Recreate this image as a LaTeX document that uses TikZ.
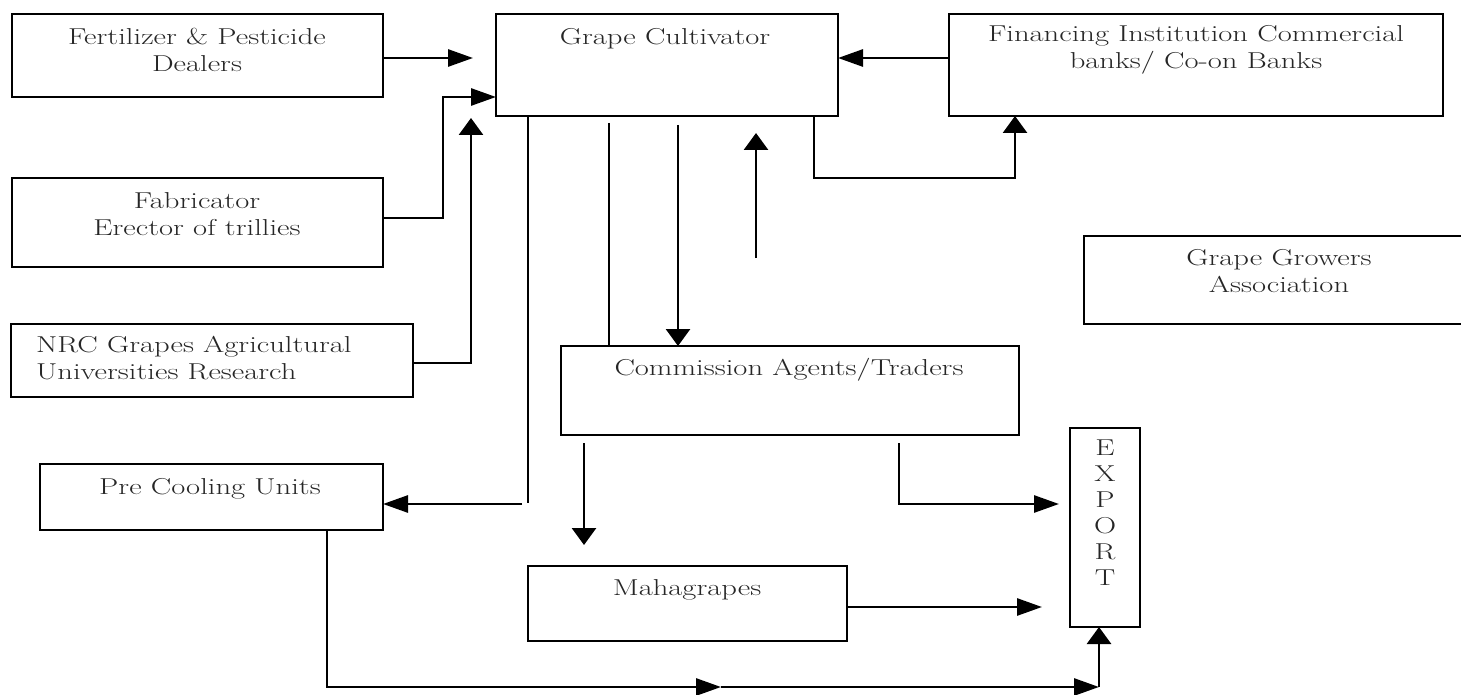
\documentclass[tikz,border=0pt]{standalone}
\usepackage{fontspec}
\usetikzlibrary{arrows.meta}
\newcommand\wtxt[1]{\scalebox{1.33}[1]{#1}}
\begin{document}
\begin{tikzpicture}[x=1pt,y=-1pt,
 box/.style={draw=black, line width=2.2pt, inner sep=0pt, outer sep=0pt, anchor=north west},
 txt/.style={inner sep=0pt, align=center, font=\fontsize{23}{27}\selectfont, text=black!85},
 conn/.style={line width=2.8pt},
 arrH/.style={conn, -{Triangle[length=25pt,width=17pt]}},
 arrV/.style={conn, -{Triangle[length=17pt,width=24pt]}}]
\useasboundingbox (0,0) rectangle (1461,695);
\fill[white] (0,0) rectangle (1461,695);
% boxes
\node[box, minimum width=371pt, minimum height=83pt] (fert) at (12,14) {};
\node[box, minimum width=371pt, minimum height=89pt] (fab) at (12,178) {};
\node[box, minimum width=402pt, minimum height=73pt] (nrc) at (11,324) {};
\node[box, minimum width=343pt, minimum height=66pt] (pc) at (40,464) {};
\node[box, minimum width=342pt, minimum height=102pt] (gc) at (496,14) {};
\node[box, minimum width=494pt, minimum height=102pt] (fin) at (949,14) {};
\node[box, minimum width=386pt, minimum height=88pt] (gg) at (1084,236) {};
\node[box, minimum width=458pt, minimum height=89pt] (ca) at (561,346) {};
\node[box, minimum width=319pt, minimum height=75pt] (maha) at (528,566) {};
\node[box, minimum width=70pt, minimum height=199pt] (exp) at (1070,428) {};
% texts
\node[txt] (fertT) at (197,50) {\wtxt{Fertilizer \& Pesticide}\\\wtxt{Dealers}};
\node[txt] (fabT) at (197,214) {\wtxt{Fabricator}\\\wtxt{Erector of trillies}};
\node[txt, anchor=west, align=left] (nrcT) at (36,358) {\wtxt{NRC Grapes Agricultural}\\\wtxt{Universities Research}};
\node[txt] (pcT) at (210,489) {\wtxt{Pre Cooling Units}};
\node[txt] (gcT) at (665,39) {\wtxt{Grape Cultivator}};
\node[txt] (finT) at (1196,50) {\wtxt{Financing Institution Commercial}\\\wtxt{banks/ Co-on Banks}};
\node[txt] (ggT) at (1279,271) {\wtxt{Grape Growers}\\\wtxt{Association}};
\node[txt] (caT) at (789,370) {\wtxt{Commission Agents/Traders}};
\node[txt] (mahaT) at (687,590) {\wtxt{Mahagrapes}};
\node[txt, font=\fontsize{23}{26}\selectfont] (expT) at (1105,513) {\wtxt{E}\\\wtxt{X}\\\wtxt{P}\\\wtxt{O}\\\wtxt{R}\\\wtxt{T}};
% free connector ends
\coordinate (fertE) at (473,58);
\coordinate (nrcE) at (471,118);
\coordinate (pcA) at (528,503);
\coordinate (pcB) at (522,504);
\coordinate (l609) at (609,123);
\coordinate (a678) at (678,125);
\coordinate (u1) at (756,258);
\coordinate (u2) at (756,133);
\coordinate (caM) at (584,443);
\coordinate (mahaA) at (584,545);
\coordinate (caX) at (899,443);
\coordinate (expL) at (1059,504);
\coordinate (mahaE) at (1042,607);
\coordinate (b1) at (327,687);
\coordinate (bm) at (721,687);
\coordinate (bc) at (1099,687);
% connectors
\draw[arrH] (fert.east |- 0,58) -- (fertE);
\draw[arrH] (fab.east |- 0,218) -- (443,218) |- (gc.west |- 0,97);
\draw[arrV] (nrc.east |- 0,363) -| (nrcE);
\draw[arrH] (fin.west |- 0,58) -- (gc.east |- 0,58);
\draw[arrV] (gc.south -| 814,0) -- (814,178) -| (fin.south -| 1015,0);
\draw[conn] (gc.south -| 528,0) -- (pcA);
\draw[arrH] (pcB) -- (pc.east |- 0,504);
\draw[conn] (l609) -- (ca.north -| 609,0);
\draw[arrV] (a678) -- (ca.north -| 678,0);
\draw[arrV] (u1) -- (u2);
\draw[arrV] (caM) -- (mahaA);
\draw[arrH] (caX) |- (expL);
\draw[arrH] (maha.east |- 0,607) -- (mahaE);
\draw[arrH] (pc.south -| 327,0) -- (b1) -- (bm);
\draw[arrH] (bm) -- (bc);
\draw[arrV] (bc) -- (bc |- exp.south);
\end{tikzpicture}
\end{document}
